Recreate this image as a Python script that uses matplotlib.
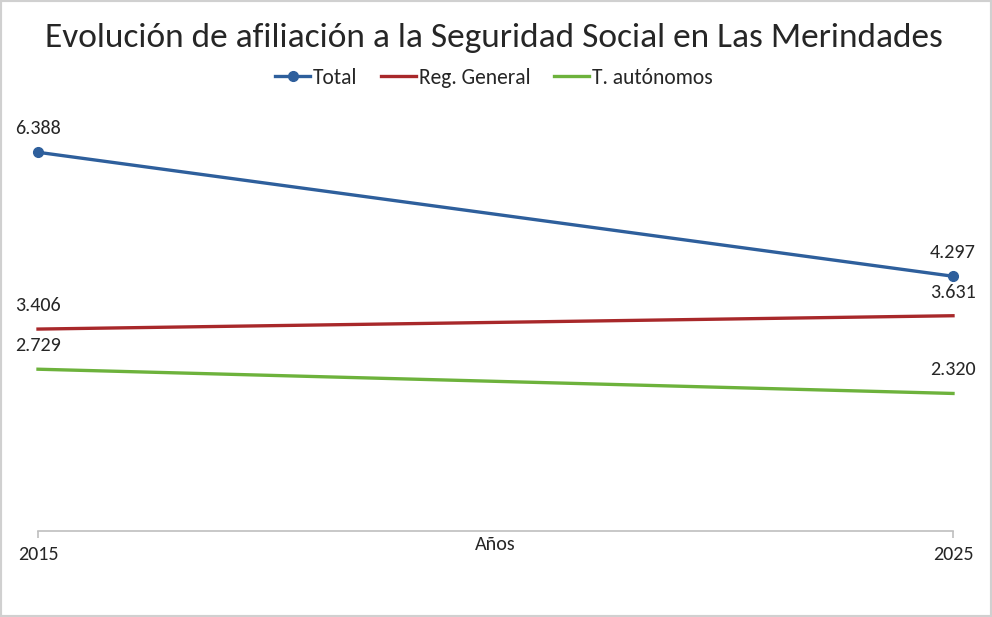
import matplotlib
matplotlib.use("Agg")
import matplotlib.pyplot as plt
from matplotlib import font_manager
from matplotlib.patches import Rectangle

# datos de afiliación
anios = [2015, 2025]
total = [6388, 4297]
reg_general = [3406, 3631]
autonomos = [2729, 2320]
etiquetas_total = ["6.388", "4.297"]
etiquetas_general = ["3.406", "3.631"]
etiquetas_autonomos = ["2.729", "2.320"]

# fuente parecida a Calibri si existe
disponibles = {f.name for f in font_manager.fontManager.ttflist}
fuente = "DejaVu Sans"
for nombre in ["Carlito", "Liberation Sans Narrow", "Open Sans", "Liberation Sans"]:
    if nombre in disponibles:
        fuente = nombre
        break
plt.rcParams["font.family"] = [fuente, "DejaVu Sans"]

AZUL = "#2E5F9C"
ROJO = "#A8282A"
VERDE = "#6DB23C"
TEXTO = "#262626"

fig = plt.figure(figsize=(9.92, 6.17), dpi=100)
ax = fig.add_axes([38 / 992, (617 - 531) / 617, (953 - 38) / 992, (531 - 116) / 617])

ax.plot(anios, total, color=AZUL, lw=2.4, marker="o", ms=7, label="Total", clip_on=False)
ax.plot(anios, reg_general, color=ROJO, lw=2.4, label="Reg. General", clip_on=False)
ax.plot(anios, autonomos, color=VERDE, lw=2.4, label="T. autónomos", clip_on=False)

for serie, etiquetas in [(total, etiquetas_total), (reg_general, etiquetas_general),
                         (autonomos, etiquetas_autonomos)]:
    for x, y, txt in zip(anios, serie, etiquetas):
        ax.annotate(txt, (x, y), xytext=(0, 17), textcoords="offset points",
                    ha="center", va="center", fontsize=14.5, color=TEXTO)

ax.set_xlim(2015, 2025)
ax.set_ylim(0, 7000)
ax.set_xticks(anios)
ax.set_xticklabels([str(a) for a in anios])
ax.set_yticks([])
for lado in ["top", "right", "left"]:
    ax.spines[lado].set_visible(False)
ax.spines["bottom"].set_color("#BFBFBF")
ax.spines["bottom"].set_linewidth(1.2)
ax.tick_params(axis="x", direction="out", length=5, width=1.2, color="#BFBFBF",
               labelsize=14.5, labelcolor=TEXTO, pad=6)

fig.text(495 / 992, 1 - 545 / 617, "Años", ha="center", va="center", fontsize=14.5, color=TEXTO)
fig.text(494 / 992, 1 - 38 / 617, "Evolución de afiliación a la Seguridad Social en Las Merindades",
         ha="center", va="center", fontsize=25.5, color=TEXTO)

fig.legend(loc="center", bbox_to_anchor=(494 / 992, 1 - 78 / 617), ncol=3, frameon=False,
           fontsize=15.5, handlelength=1.6, handletextpad=0.15, columnspacing=1.1,
           labelcolor=TEXTO)

# borde gris de la imagen
fig.patches.append(Rectangle((0, 0), 1, 1, transform=fig.transFigure, fill=False,
                             edgecolor="#D0D0D0", lw=3))

fig.savefig("out.png", dpi=100)
